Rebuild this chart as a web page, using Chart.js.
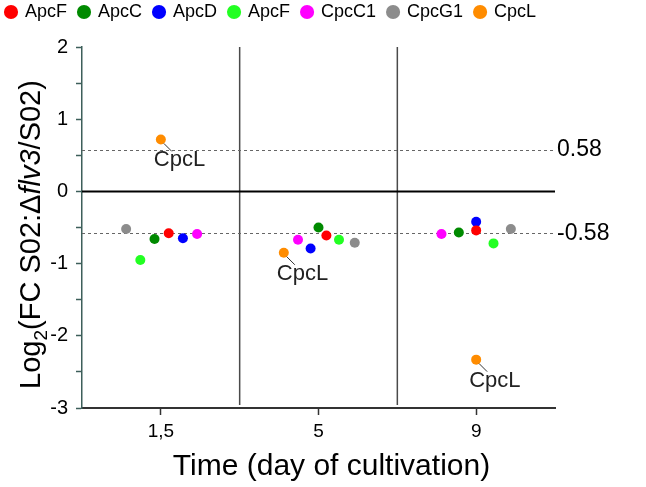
<!DOCTYPE html>
<html>
<head>
<meta charset="utf-8">
<script src="https://cdn.jsdelivr.net/npm/chart.js@4.4.1/dist/chart.umd.min.js"></script>
<style>
  html, body { margin: 0; padding: 0; background: #fff; }
  canvas { display: block; }
</style>
</head>
<body>
<canvas id="chart" width="646" height="487"></canvas>
<script>
const days = ['1,5', '5', '9'];
const proteins = ['ApcF', 'ApcC', 'ApcD', 'ApcF', 'CpcC1', 'CpcG1', 'CpcL'];
const colors = ['#ff0000', '#008a00', '#0000ff', '#22ff22', '#ff00ff', '#8c8c8c', '#ff8c00'];

// log2 fold change, one value per day (1,5 / 5 / 9)
const apcF = [-0.58, -0.61, -0.54];
const apcC = [-0.66, -0.50, -0.57];
const apcD = [-0.65, -0.79, -0.42];
const apcF2 = [-0.95, -0.67, -0.72];
const cpcC1 = [-0.59, -0.67, -0.59];
const cpcG1 = [-0.52, -0.71, -0.52];
const cpcL = [0.72, -0.85, -2.33];

// sideways spread of the dots inside each day, in day units
const spread = [
    [0.05, 0.05, 0],
    [-0.04, 0, -0.11],
    [0.14, -0.05, 0],
    [-0.13, 0.13, 0.11],
    [0.23, -0.13, -0.22],
    [-0.22, 0.23, 0.22],
    [0, -0.22, 0]
];

const thresholds = [0.58, -0.58];
const calloutSeries = 6; // CpcL points get a label

const series = [apcF, apcC, apcD, apcF2, cpcC1, cpcG1, cpcL];
const FONT = '"Liberation Sans", Arial, sans-serif';

const datasets = series.map((vals, s) => ({
    label: proteins[s],
    data: vals.map((v, d) => ({ x: d + 0.5 + spread[s][d], y: v })),
    backgroundColor: colors[s],
    borderColor: colors[s],
    borderWidth: 0,
    pointRadius: 5,
    pointHoverRadius: 5,
    pointStyle: 'circle'
}));

// push the plot down below the legend
const legendGap = {
    id: 'legendGap',
    beforeLayout(chart) {
        const lg = chart.legend;
        if (lg && !lg._gapDone) {
            const fit = lg.fit.bind(lg);
            lg.fit = function () { fit(); this.height += 16; };
            lg._gapDone = true;
        }
    }
};

const guides = {
    id: 'guides',
    beforeDatasetsDraw(chart) {
        const { ctx, chartArea: a, scales: { x, y } } = chart;
        ctx.save();
        // day separators
        ctx.strokeStyle = '#4a4a4a';
        ctx.lineWidth = 1.5;
        for (let d = 1; d < days.length; d++) {
            const px = x.getPixelForValue(d);
            ctx.beginPath();
            ctx.moveTo(px, a.top);
            ctx.lineTo(px, a.bottom - 3);
            ctx.stroke();
        }
        // +-0.58 dashed
        ctx.setLineDash([3, 3]);
        ctx.strokeStyle = '#666';
        ctx.lineWidth = 1;
        thresholds.forEach(t => {
            const py = Math.round(y.getPixelForValue(t)) + 0.5;
            ctx.beginPath();
            ctx.moveTo(a.left, py);
            ctx.lineTo(a.right, py);
            ctx.stroke();
        });
        ctx.setLineDash([]);
        // zero line
        const y0 = y.getPixelForValue(0);
        ctx.strokeStyle = '#000';
        ctx.lineWidth = 2;
        ctx.beginPath();
        ctx.moveTo(a.left, y0);
        ctx.lineTo(a.right, y0);
        ctx.stroke();
        ctx.restore();
    },
    afterDraw(chart) {
        const { ctx, chartArea: a, scales: { y } } = chart;
        ctx.save();
        ctx.fillStyle = '#000';
        ctx.textBaseline = 'middle';
        ctx.textAlign = 'left';
        ctx.font = '23px ' + FONT;
        thresholds.forEach(t => {
            ctx.fillText(String(t), a.right + 2, y.getPixelForValue(t));
        });

        // CpcL callouts
        ctx.font = '22px ' + FONT;
        ctx.strokeStyle = '#333';
        ctx.fillStyle = '#222';
        ctx.lineWidth = 1;
        chart.getDatasetMeta(calloutSeries).data.forEach(pt => {
            ctx.beginPath();
            ctx.moveTo(pt.x + 3, pt.y + 4);
            ctx.lineTo(pt.x + 11, pt.y + 12);
            ctx.stroke();
            ctx.fillText(proteins[calloutSeries], pt.x - 7, pt.y + 21);
        });

        // x title
        ctx.fillStyle = '#000';
        ctx.textAlign = 'center';
        ctx.font = '30px ' + FONT;
        ctx.fillText('Time (day of cultivation)', (a.left + a.right) / 2 + 13, 467);

        // y title with subscript and italic
        const big = '29px ' + FONT, small = '19px ' + FONT, ital = 'italic 29px ' + FONT;
        const parts = [['Log', big, 0], ['2', small, 7], ['(FC S02:\u0394', big, 0], ['flv3', ital, 0], ['/S02)', big, 0]];
        ctx.translate(30, (a.top + a.bottom) / 2 + 7);
        ctx.rotate(-Math.PI / 2);
        ctx.textAlign = 'left';
        ctx.textBaseline = 'alphabetic';
        let w = 0;
        parts.forEach(p => { ctx.font = p[1]; w += ctx.measureText(p[0]).width; });
        let cx = -w / 2;
        parts.forEach(p => {
            ctx.font = p[1];
            ctx.fillText(p[0], cx, 10 + p[2]);
            cx += ctx.measureText(p[0]).width;
        });
        ctx.restore();
    }
};

new Chart(document.getElementById('chart'), {
    type: 'scatter',
    data: { datasets },
    options: {
        responsive: false,
        animation: false,
        layout: { padding: { top: -9, left: -6, right: 0, bottom: 0 } },
        plugins: {
            tooltip: { enabled: false },
            legend: {
                position: 'top',
                align: 'start',
                labels: {
                    usePointStyle: true,
                    boxWidth: 10,
                    boxHeight: 10,
                    padding: 12,
                    color: '#000',
                    font: { size: 18, family: FONT }
                }
            }
        },
        scales: {
            x: {
                type: 'linear',
                min: 0,
                max: 3,
                afterBuildTicks: s => { s.ticks = days.map((_, i) => ({ value: i + 0.5 })); },
                ticks: {
                    callback: (v, i) => days[i],
                    color: '#000',
                    font: { size: 19, family: FONT },
                    padding: 5,
                    maxRotation: 0
                },
                grid: { drawOnChartArea: false, tickLength: 7, tickColor: '#333', tickWidth: 1.5 },
                border: { color: '#333', width: 2 },
                afterFit: s => { s.height = 79; }
            },
            y: {
                min: -3,
                max: 2,
                ticks: {
                    stepSize: 0.5,
                    autoSkip: false,
                    color: '#000',
                    font: { size: 20, family: FONT },
                    padding: 8,
                    callback: v => Number.isInteger(v) ? String(v) : ''
                },
                grid: { drawOnChartArea: false, tickLength: 6, tickColor: '#3d5f5a', tickWidth: 1.5 },
                border: { color: '#3d5f5a', width: 1.5 },
                afterFit: s => { s.width = 88; }
            },
            yRight: {
                position: 'right',
                ticks: { display: false },
                grid: { display: false },
                border: { display: false },
                afterFit: s => { s.width = 91; }
            }
        }
    },
    plugins: [legendGap, guides]
});
</script>
</body>
</html>
